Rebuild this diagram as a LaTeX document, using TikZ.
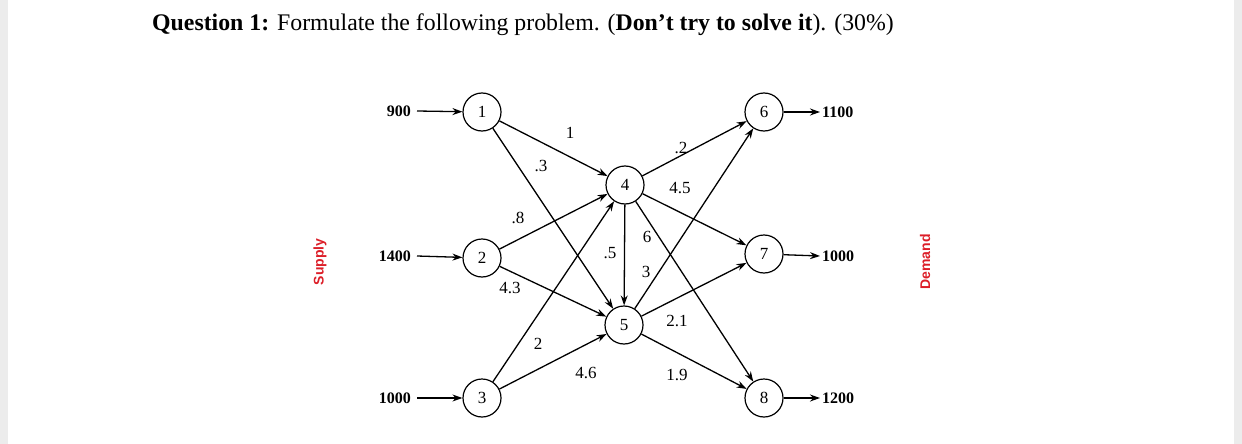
\documentclass[tikz,border=0pt]{standalone}
\usepackage{fontspec}
\setmainfont{Liberation Serif}
\newfontfamily\lsans{Liberation Sans}
\usetikzlibrary{arrows.meta}
\definecolor{sred}{RGB}{220,30,40}
\tikzset{
  nd/.style={circle,draw,line width=1.2pt,minimum size=38pt,inner sep=0pt,font=\fontsize{17}{17}\selectfont},
  ar/.style={line width=1.3pt,-{Stealth[length=10pt,width=7pt]}},
  lb/.style={font=\fontsize{17}{17}\selectfont,inner sep=0pt},
  qty/.style={font=\fontsize{16}{16}\selectfont\bfseries,inner sep=0pt},
  side/.style={font=\lsans\bfseries\fontsize{14}{14}\selectfont,text=sred,rotate=90,inner sep=0pt}
}
\begin{document}
\begin{tikzpicture}[x=1pt,y=-1pt]
\useasboundingbox (0,0) rectangle (1242,444);
\fill[gray!15] (0,0) rectangle (8,444);
\fill[gray!15] (1234,0) rectangle (1242,444);
\node[anchor=base west,inner sep=0pt,font=\fontsize{23.8}{24}\selectfont] (title) at (152,31)
 {\textbf{Question 1:} Formulate the following problem. (\textbf{Don’t try to solve it}). (30\%)};
\node[nd] (n1) at (482,112) {1};
\node[nd] (n2) at (482,258) {2};
\node[nd] (n3) at (482,398) {3};
\node[nd] (n4) at (625,185) {4};
\node[nd] (n5) at (624,325) {5};
\node[nd] (n6) at (764,112) {6};
\node[nd] (n7) at (764,254) {7};
\node[nd] (n8) at (764,398) {8};
\node[qty,anchor=east] (s1) at (411,111) {900};
\node[qty,anchor=east] (s2) at (411,256) {1400};
\node[qty,anchor=east] (s3) at (411,398) {1000};
\node[qty,anchor=west] (d6) at (822,112) {1100};
\node[qty,anchor=west] (d7) at (822,256) {1000};
\node[qty,anchor=west] (d8) at (822,398) {1200};
\draw[ar] (s1.east)++(6,0) -- (n1);
\draw[ar] (s2.east)++(6,0) -- (n2);
\draw[ar] (s3.east)++(6,0) -- (n3);
\draw[ar] (n6) -- ([xshift=-2pt]d6.west);
\draw[ar] (n7) -- ([xshift=-2pt]d7.west);
\draw[ar] (n8) -- ([xshift=-2pt]d8.west);
\foreach \a/\b in {n1/n4,n1/n5,n2/n4,n2/n5,n3/n4,n3/n5,n4/n5,n4/n6,n4/n7,n4/n8,n5/n6,n5/n7,n5/n8}
  \draw[ar] (\a) -- (\b);
\node[lb] (l14) at (570,133) {1};
\node[lb] (l15) at (541,166) {.3};
\node[lb] (l24) at (518,218) {.8};
\node[lb] (l25) at (510,288) {4.3};
\node[lb] (l34) at (538,344) {2};
\node[lb] (l35) at (586,373) {4.6};
\node[lb] (l45) at (610,253) {.5};
\node[lb] (l48) at (647,237) {6};
\node[lb] (l56) at (646,272) {3};
\node[lb] (l46) at (681,148) {.2};
\node[lb] (l47) at (680,188) {4.5};
\node[lb] (l57) at (677,321) {2.1};
\node[lb] (l58) at (677,375) {1.9};
\node[side] (sup) at (320,262) {Supply};
\node[side] (dem) at (925,262) {Demand};
\end{tikzpicture}
\end{document}
